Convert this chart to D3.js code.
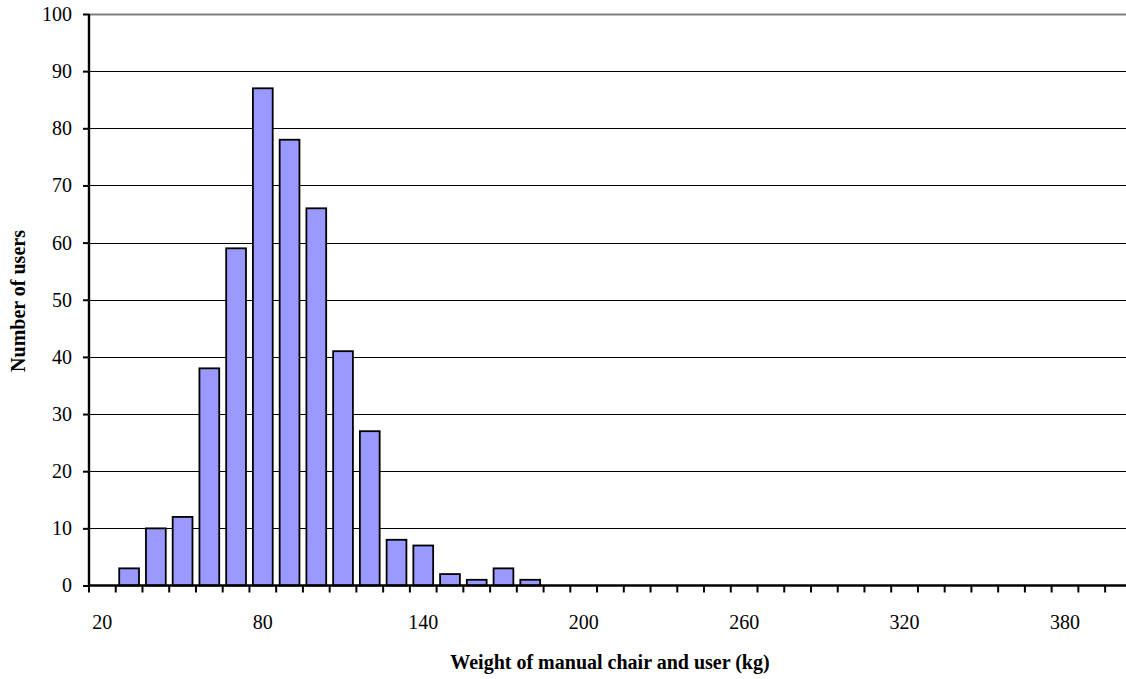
<!DOCTYPE html>
<html>
<head>
<meta charset="utf-8">
<script src="https://cdn.jsdelivr.net/npm/d3@7"></script>
<style>
  html, body { margin: 0; padding: 0; background: #fff; }
  svg { display: block; }
  text { font-family: "Liberation Serif", "Times New Roman", serif; fill: #000; }
</style>
</head>
<body>
<svg id="chart" width="1126" height="679"></svg>
<script>
// Weight bins (kg, lower bound of each 10 kg bin)
const weightBins = [20, 30, 40, 50, 60, 70, 80, 90, 100, 110, 120, 130, 140, 150, 160, 170, 180,
  190, 200, 210, 220, 230, 240, 250, 260, 270, 280, 290, 300, 310, 320, 330, 340, 350, 360, 370, 380, 390, 400];
// Number of users in each bin
const userCounts = [0, 3, 10, 12, 38, 59, 87, 78, 66, 41, 27, 8, 7, 2, 1, 3, 1,
  0, 0, 0, 0, 0, 0, 0, 0, 0, 0, 0, 0, 0, 0, 0, 0, 0, 0, 0, 0, 0, 0];
// Labelled bins on the x axis
const xTickLabels = [20, 80, 140, 200, 260, 320, 380];
// Y axis ticks
const yTickValues = [0, 10, 20, 30, 40, 50, 60, 70, 80, 90, 100];

const data = weightBins.map((w, i) => ({ bin: w, count: userCounts[i] }));

const svg = d3.select("#chart");
const plotLeft = 89, plotTop = 14, plotBottom = 585.5;
const step = 26.74;
const plotRight = plotLeft + step * weightBins.length;

const x = d3.scaleBand()
  .domain(weightBins)
  .range([plotLeft, plotRight])
  .paddingInner(0.26)
  .paddingOuter(0.13);

const y = d3.scaleLinear().domain([0, 100]).range([plotBottom, plotTop]);

// Horizontal gridlines
svg.append("g")
  .selectAll("line")
  .data(yTickValues.filter(v => v > 0))
  .join("line")
  .attr("x1", plotLeft)
  .attr("x2", plotRight)
  .attr("y1", d => Math.round(y(d)) + 0.5)
  .attr("y2", d => Math.round(y(d)) + 0.5)
  .attr("stroke", d => d === 100 ? "#808080" : "#000")
  .attr("stroke-width", d => d === 100 ? 2 : 1);

// Bars
svg.append("g")
  .selectAll("rect")
  .data(data.filter(d => d.count > 0))
  .join("rect")
  .attr("x", d => x(d.bin))
  .attr("width", x.bandwidth())
  .attr("y", d => y(d.count))
  .attr("height", d => y(0) - y(d.count))
  .attr("fill", "#9999FF")
  .attr("stroke", "#000")
  .attr("stroke-width", 1.8);

// Y axis
const yAxis = svg.append("g")
  .attr("transform", `translate(${plotLeft},0)`)
  .call(d3.axisLeft(y).tickValues(yTickValues).tickSize(6).tickPadding(11));
yAxis.select(".domain").attr("stroke", "#000").attr("stroke-width", 2.4)
  .attr("d", `M0,${plotTop}V${plotBottom}`);
yAxis.selectAll(".tick line").attr("stroke", "#000").attr("stroke-width", 2);
yAxis.selectAll(".tick text")
  .style("font-family", "'Liberation Serif', 'Times New Roman', serif")
  .style("font-size", "20px")
  .attr("fill", "#000");

// X axis: baseline, tick marks at bin boundaries, labels at bin centres
const xAxisG = svg.append("g");
xAxisG.append("line")
  .attr("x1", plotLeft).attr("x2", plotRight)
  .attr("y1", plotBottom).attr("y2", plotBottom)
  .attr("stroke", "#000").attr("stroke-width", 2.4);

const boundaries = weightBins.map(w => x(w) - x.step() * x.paddingInner() / 2);
xAxisG.selectAll("line.tick")
  .data(boundaries)
  .join("line")
  .attr("class", "tick")
  .attr("x1", d => d).attr("x2", d => d)
  .attr("y1", plotBottom).attr("y2", plotBottom + 7)
  .attr("stroke", "#000").attr("stroke-width", 2);

xAxisG.selectAll("text.lbl")
  .data(xTickLabels)
  .join("text")
  .attr("class", "lbl")
  .attr("x", d => x(d) + x.bandwidth() / 2)
  .attr("y", 629)
  .attr("text-anchor", "middle")
  .style("font-size", "20px")
  .text(d => d);

// Axis titles
svg.append("text")
  .attr("x", 610)
  .attr("y", 669)
  .attr("text-anchor", "middle")
  .style("font-size", "20px")
  .style("font-weight", "bold")
  .text("Weight of manual chair and user (kg)");

svg.append("text")
  .attr("transform", "translate(25,301) rotate(-90)")
  .attr("text-anchor", "middle")
  .style("font-size", "20px")
  .style("font-weight", "bold")
  .text("Number of users");
</script>
</body>
</html>
